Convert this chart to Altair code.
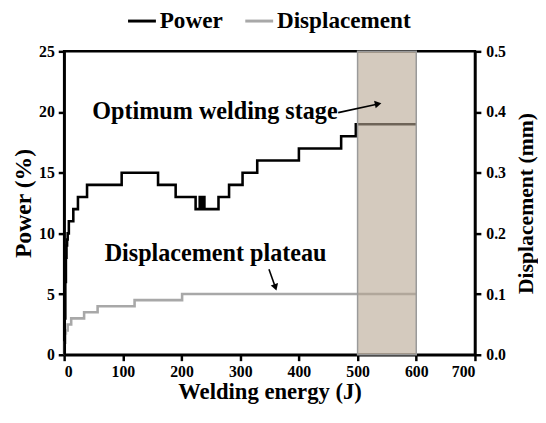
import altair as alt
import pandas as pd

# ---- data ----
power_energy = [0, 1, 2, 3, 4, 5, 6, 8, 15.6, 23.5, 39, 98, 160, 190, 224, 231, 233, 236, 239, 263, 281, 304, 329, 400, 472, 497, 600]
power_value = [0, 3, 6, 8, 9, 9.5, 10, 11, 12, 13, 14, 15, 14, 13, 12, 13, 12, 13, 12, 13, 14, 15, 16, 17, 18, 19, 19]

disp_energy = [0, 1, 2, 3, 6, 12, 34, 57, 120, 201, 600]
disp_value = [0, 0.02, 0.035, 0.04, 0.05, 0.06, 0.07, 0.08, 0.09, 0.10, 0.10]

series_names = ["Power", "Displacement"]
series_colors = ["#000000", "#a8a8a8"]

x_ticks = [0, 100, 200, 300, 400, 500, 600, 700]
power_ticks = [0, 5, 10, 15, 20, 25]
disp_ticks = [0.0, 0.1, 0.2, 0.3, 0.4, 0.5]

band_start = [500]
band_end = [600]

annot_text = ["Optimum welding stage", "Displacement plateau"]
annot_x = [257, 258]
annot_y = [20.0, 8.3]

arrow_x = [467, 349]
arrow_y = [19.95, 7.05]
arrow_x2 = [535, 360]
arrow_y2 = [20.67, 5.55]
arrow_angle = [78, 162]

FONT = "Liberation Serif"
PLOT_H = 308

power_df = pd.DataFrame({"energy": power_energy, "value": power_value, "series": "Power"})
disp_df = pd.DataFrame({"energy": disp_energy, "value": disp_value, "series": "Displacement"})
band_df = pd.DataFrame({"x": band_start, "x2": band_end})
annot_df = pd.DataFrame({"x": annot_x, "y": annot_y, "text": annot_text})
arrow_df = pd.DataFrame({"x": arrow_x, "y": arrow_y, "x2": arrow_x2, "y2": arrow_y2, "angle": arrow_angle})

x_scale = alt.Scale(domain=[0, 700], nice=False, zero=False)
p_scale = alt.Scale(domain=[0, 25], nice=False)
d_scale = alt.Scale(domain=[0, 0.5], nice=False)

color = alt.Color(
    "series:N",
    scale=alt.Scale(domain=series_names, range=series_colors),
    legend=alt.Legend(
        title=None, orient="none", direction="horizontal",
        legendX=63, legendY=-47,
        symbolType="stroke", symbolStrokeWidth=3, symbolSize=800,
        labelFont=FONT, labelFontSize=23.5, labelFontWeight="bold", labelColor="black",
        columnPadding=16, labelOffset=2,
    ),
)

x_axis = alt.Axis(values=x_ticks, title="Welding energy (J)", format="d",
                  titleBaseline="alphabetic", titleY=44)


def X(field):
    return alt.X(field, scale=x_scale, axis=x_axis)


power_line = alt.Chart(power_df).mark_line(interpolate="step-after", strokeWidth=2.6).encode(
    x=X("energy:Q"),
    y=alt.Y("value:Q", scale=p_scale,
            axis=alt.Axis(values=power_ticks, title="Power (%)", orient="left", format="d")),
    color=color,
)

disp_line = alt.Chart(disp_df).mark_line(interpolate="step-after", strokeWidth=2.6).encode(
    x=X("energy:Q"),
    y=alt.Y("value:Q", scale=d_scale,
            axis=alt.Axis(values=disp_ticks, title="Displacement (mm)", orient="right",
                          format=".1f", titleAngle=270, titleX=51, titleY=PLOT_H / 2,
                          titleFontSize=22,
                          titleAlign="center", titleBaseline="middle", labelPadding=5)),
    color=color,
)

band = alt.Chart(band_df).mark_rect(
    color="#b7a793", fillOpacity=0.6, stroke="#9a9a9a", strokeWidth=1.5, strokeOpacity=1
).encode(
    x=X("x:Q"),
    x2="x2:Q",
    y=alt.value(0),
    y2=alt.value(PLOT_H),
)

texts = alt.Chart(annot_df).mark_text(
    font=FONT, fontSize=24.5, fontWeight="bold", color="black", align="center", baseline="middle"
).encode(
    x=X("x:Q"),
    y=alt.Y("y:Q", scale=p_scale, axis=None),
    text="text:N",
)

shafts = alt.Chart(arrow_df).mark_rule(color="black", strokeWidth=1.6).encode(
    x=X("x:Q"),
    y=alt.Y("y:Q", scale=p_scale, axis=None),
    x2="x2:Q",
    y2="y2:Q",
)

heads = alt.Chart(arrow_df).mark_point(
    shape="triangle-up", filled=True, color="black", size=60, opacity=1
).encode(
    x=X("x2:Q"),
    y=alt.Y("y2:Q", scale=p_scale, axis=None),
    angle=alt.Angle("angle:Q", scale=None),
)

chart = alt.layer(disp_line, power_line, band, texts, shafts, heads).resolve_scale(
    y="independent", x="shared"
).properties(
    width=417, height=PLOT_H,
    padding={"left": 57, "top": 41, "right": 64, "bottom": 49},
    autosize="none",
).configure_view(
    stroke="black", strokeWidth=2.5
).configure_axis(
    grid=False,
    domainColor="black", domainWidth=2.5,
    tickColor="black", tickWidth=2.5, tickSize=6,
    labelFont=FONT, labelFontSize=16, labelFontWeight="bold", labelColor="black",
    labelPadding=4,
    titleFont=FONT, titleFontSize=24, titleFontWeight="bold", titleColor="black",
).configure_axisX(
    titleFontSize=23, labelPadding=3,
).configure_axisLeft(
    titlePadding=3,
)

chart.save("out.html", embed_options={"renderer": "svg", "actions": False})
